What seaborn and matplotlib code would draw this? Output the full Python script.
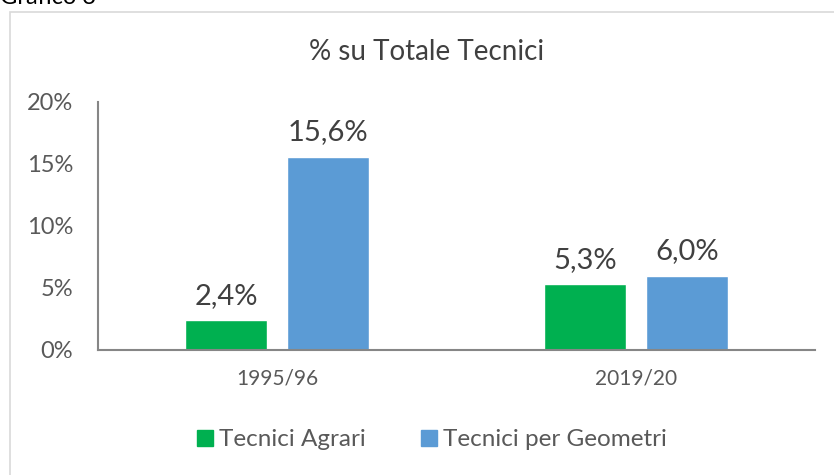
import pandas as pd
import matplotlib.pyplot as plt
import matplotlib.patches as mpatches
from matplotlib.ticker import FuncFormatter
import seaborn as sns

# data
years = ['1995/96', '2019/20']
series = ['Tecnici Agrari', 'Tecnici per Geometri']
agrari = [0.024, 0.053]
geometri = [0.156, 0.060]
colors = ['#00B050', '#5B9BD5']

df = pd.DataFrame({
    'anno': years * 2,
    'tipo': [series[0]] * 2 + [series[1]] * 2,
    'quota': agrari + geometri,
})

sns.set_theme(style='white')
plt.rcParams['font.family'] = ['Lato', 'DejaVu Sans']

fig = plt.figure(figsize=(8.34, 4.75), dpi=100)
ax = fig.add_axes([98 / 834, 1 - 350 / 475, 717 / 834, 248 / 475])

# light border around the chart area
fig.patches.append(mpatches.Rectangle((10 / 834, -0.1), 1.0, 1 - 12 / 475 + 0.1,
                                      transform=fig.transFigure, fill=False,
                                      edgecolor='#D9D9D9', linewidth=1.2))
fig.text(0.0, 1 - 4 / 475, 'Grafico 3', fontsize=17, color='#000000', va='baseline')

sns.barplot(data=df, x='anno', y='quota', hue='tipo', palette=colors,
            width=0.57, gap=0.2, ax=ax, legend=False, saturation=1)

for cont in ax.containers:
    labels = [f"{v * 100:.1f}%".replace('.', ',') for v in cont.datavalues]
    ax.bar_label(cont, labels=labels, padding=8, fontsize=21, color='#404040')

ax.set_ylim(0, 0.2)
ax.set_yticks([0, 0.05, 0.10, 0.15, 0.20])
ax.yaxis.set_major_formatter(FuncFormatter(lambda v, p: f"{round(v * 100)}%"))
ax.tick_params(axis='y', length=0, pad=18, labelsize=17, labelcolor='#595959')
ax.tick_params(axis='x', length=0, pad=13, labelsize=15, labelcolor='#595959')
ax.set_xlabel('')
ax.set_ylabel('')

for s in ['top', 'right']:
    ax.spines[s].set_visible(False)
for s in ['left', 'bottom']:
    ax.spines[s].set_color('#868686')
    ax.spines[s].set_linewidth(1.5)

fig.text(0.512, 1 - 52 / 475, '% su Totale Tecnici', fontsize=20, color='#404040',
         ha='center', va='center')

handles = [mpatches.Patch(color=c, label=s) for c, s in zip(colors, series)]
fig.legend(handles=handles, loc='center', bbox_to_anchor=(0.518, 1 - 440 / 475),
           ncol=2, frameon=False, fontsize=17.5, labelcolor='#595959',
           handlelength=0.65, handleheight=0.65, handletextpad=0.25, columnspacing=2.3)

fig.savefig('out.png', dpi=100)
